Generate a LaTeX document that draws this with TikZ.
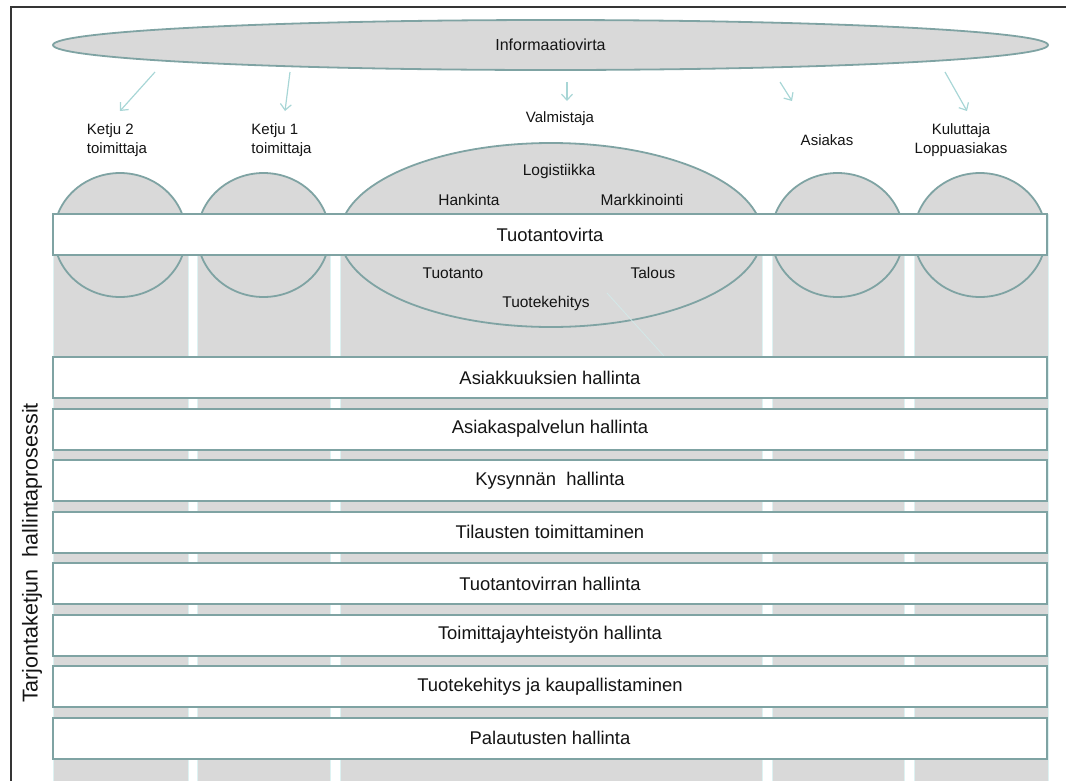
\documentclass[tikz,border=0pt]{standalone}
\usepackage{fontspec}
\setmainfont{Liberation Sans}
\usetikzlibrary{arrows.meta,shapes.geometric}
\definecolor{colfill}{HTML}{D9D9D9}
\definecolor{edge}{HTML}{7FA3A3}
\definecolor{flow}{HTML}{A8D6D6}
\definecolor{framecol}{HTML}{353535}
\definecolor{ink}{HTML}{141414}
\definecolor{seam}{HTML}{DDF2F2}
\definecolor{stray}{HTML}{D3E8E8}

\begin{document}
\begin{tikzpicture}[x=1pt,y=-1pt,
  column/.style={fill=colfill, draw=seam, line width=0.8pt},
  bubble/.style={fill=colfill, draw=edge, line width=1.8pt},
  rowbox/.style={draw=edge, line width=2pt, fill=white, minimum width=994pt,
    minimum height=41pt, inner sep=0pt, font=\fontsize{18.4}{20}\selectfont, text=ink},
  lbl/.style={font=\fontsize{15}{19}\selectfont, text=ink, inner sep=0pt},
  inlbl/.style={font=\fontsize{15.5}{18}\selectfont, text=ink, inner sep=0pt},
  flowarrow/.style={draw=flow, line width=1.2pt, -{Straight Barb[length=6pt,width=11pt]}},
]
\useasboundingbox (0,0) rectangle (1066,780);
\clip (0,0) rectangle (1066,780);

% vertical actor columns
\path[column] (53,214) rectangle (188,800);
\path[column] (197,214) rectangle (330,800);
\path[column] (340,214) rectangle (762,800);
\path[column] (772,214) rectangle (904,800);
\path[column] (914,214) rectangle (1048,800);

% actor bubbles
\draw[bubble] (120,235) ellipse [x radius=66, y radius=62];
\draw[bubble] (263.5,235) ellipse [x radius=66, y radius=62];
\draw[bubble] (551,235) ellipse [x radius=211, y radius=92];
\draw[bubble] (837.5,235) ellipse [x radius=66, y radius=62];
\draw[bubble] (980,235) ellipse [x radius=66, y radius=62];

% faint guide line inside the manufacturer column
\coordinate (g1) at (607,293);
\coordinate (g2) at (664,356);
\draw[stray, line width=0.8pt] (g1) -- (g2);

% information flow
\node[ellipse, fill=colfill, draw=edge, line width=1.8pt, minimum width=995pt,
  minimum height=50pt, inner sep=0pt, font=\fontsize{16}{18}\selectfont, text=ink]
  (info) at (550.5,45) {Informaatiovirta};

% production flow band
\node[rowbox] (tv) at (550,234.5) {Tuotantovirta};

% management processes
\node[rowbox] (r1) at (550,377.5) {Asiakkuuksien hallinta};
\node[rowbox] (r2) at (550,429)   {Asiakaspalvelun hallinta};
\node[rowbox] (r3) at (550,480.5) {Kysynnän\ \ hallinta};
\node[rowbox] (r4) at (550,532)   {Tilausten toimittaminen};
\node[rowbox] (r5) at (550,583.5) {Tuotantovirran hallinta};
\node[rowbox] (r6) at (550,635)   {Toimittajayhteistyön hallinta};
\node[rowbox] (r7) at (550,686.5) {Tuotekehitys ja kaupallistaminen};
\node[rowbox] (r8) at (550,738)   {Palautusten hallinta};

% actor labels
\node[lbl, align=left]   (k2)  at (117,140)   {Ketju 2\\toimittaja};
\node[lbl, align=left]   (k1)  at (281.5,140) {Ketju 1\\toimittaja};
\node[lbl]               (val) at (560,119)   {Valmistaja};
\node[lbl]               (asi) at (827,140)   {Asiakas};
\node[lbl, align=center] (kul) at (961,140)   {Kuluttaja\\Loppuasiakas};

% manufacturer functions
\node[inlbl] (log) at (559,171) {Logistiikka};
\node[inlbl] (han) at (469,200) {Hankinta};
\node[inlbl] (mar) at (642,200) {Markkinointi};
\node[inlbl] (tuo) at (453,273) {Tuotanto};
\node[inlbl] (tal) at (653,273) {Talous};
\node[inlbl] (tke) at (546,303) {Tuotekehitys};

% side title
\node[font=\fontsize{21.5}{24}\selectfont, text=ink, rotate=90, inner sep=0pt]
  (side) at (32,553) {Tarjontaketjun\ \ hallintaprosessit};

% arrow end points
\coordinate (s1) at (155,72);  \coordinate (e1) at (120,111);
\coordinate (s2) at (290,72);  \coordinate (e2) at (285,111);
\coordinate (s3) at (567,82);  \coordinate (e3) at (567,101);
\coordinate (s4) at (780,82);  \coordinate (e4) at (792,101);
\coordinate (s5) at (945,72);  \coordinate (e5) at (967,111);
\draw[flowarrow] (s1) -- (e1);
\draw[flowarrow] (s2) -- (e2);
\draw[flowarrow] (s3) -- (e3);
\draw[flowarrow] (s4) -- (e4);
\draw[flowarrow] (s5) -- (e5);

% outer frame
\coordinate (f1) at (1070,7);
\coordinate (f2) at (11,7);
\coordinate (f3) at (11,790);
\draw[framecol, line width=2.4pt] (f1) -- (f2) -- (f3);
\end{tikzpicture}
\end{document}
